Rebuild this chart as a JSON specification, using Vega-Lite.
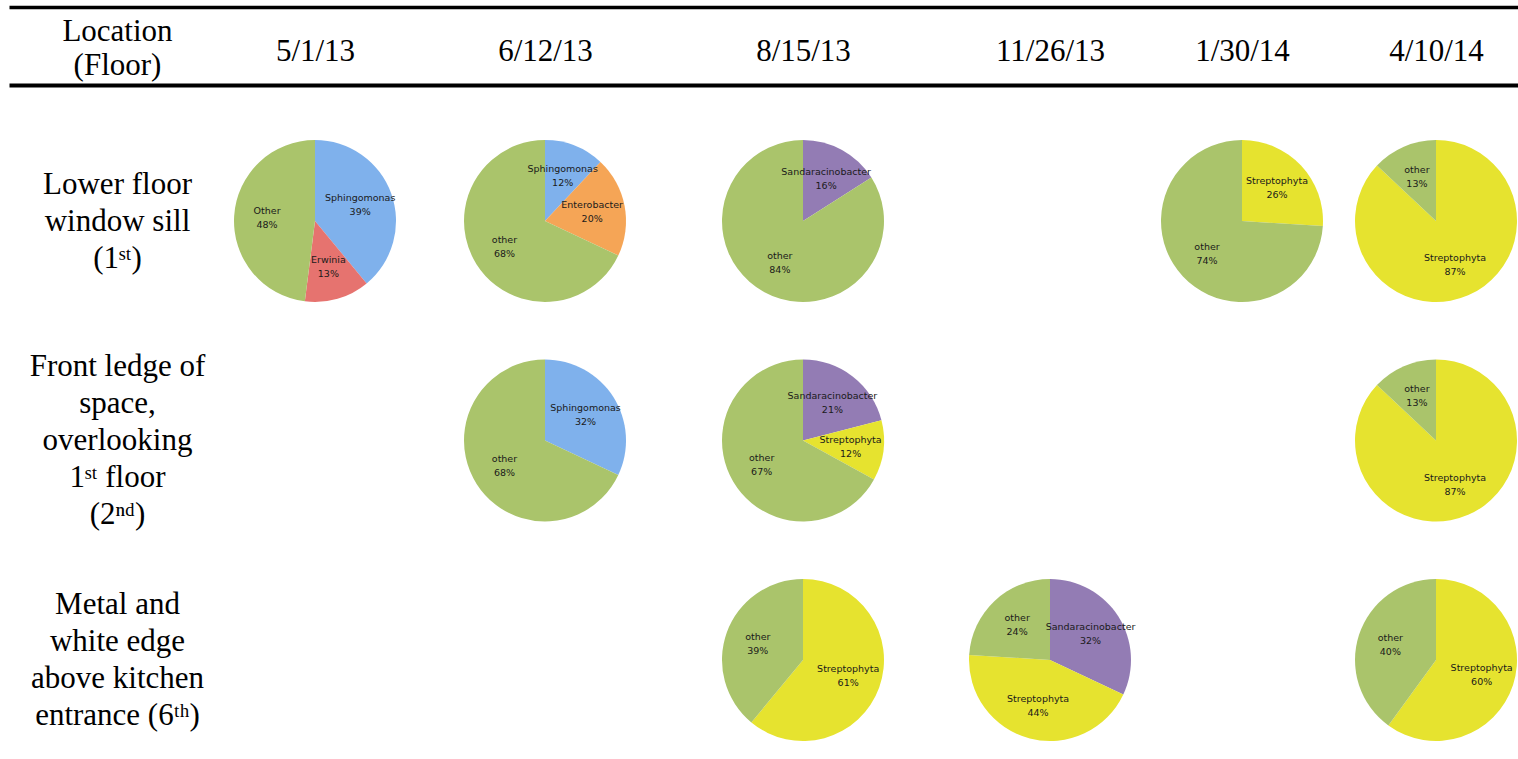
{
  "$schema": "https://vega.github.io/schema/vega-lite/v6.json",
  "width": 1509,
  "height": 674,
  "autosize": {"type": "none"},
  "padding": {"left": 9, "top": 85, "right": 0, "bottom": 0},
  "background": "white",
  "config": {"view": {"stroke": null}},
  "data": {
    "values": [
      {"sample": "L1 5/1/13", "location": "Lower floor\nwindow sill\n(1\u02e2\u1d57)", "date": "2013/05/01", "taxon": "Sphingomonas", "share": 0.39, "rank": 1},
      {"sample": "L1 5/1/13", "location": "Lower floor\nwindow sill\n(1\u02e2\u1d57)", "date": "2013/05/01", "taxon": "Erwinia", "share": 0.13, "rank": 2},
      {"sample": "L1 5/1/13", "location": "Lower floor\nwindow sill\n(1\u02e2\u1d57)", "date": "2013/05/01", "taxon": "Other", "share": 0.48, "rank": 3},
      {"sample": "L1 6/12/13", "location": "Lower floor\nwindow sill\n(1\u02e2\u1d57)", "date": "2013/06/12", "taxon": "Sphingomonas", "share": 0.12, "rank": 1},
      {"sample": "L1 6/12/13", "location": "Lower floor\nwindow sill\n(1\u02e2\u1d57)", "date": "2013/06/12", "taxon": "Enterobacter", "share": 0.20, "rank": 2},
      {"sample": "L1 6/12/13", "location": "Lower floor\nwindow sill\n(1\u02e2\u1d57)", "date": "2013/06/12", "taxon": "other", "share": 0.68, "rank": 3},
      {"sample": "L1 8/15/13", "location": "Lower floor\nwindow sill\n(1\u02e2\u1d57)", "date": "2013/08/15", "taxon": "Sandaracinobacter", "share": 0.16, "rank": 1},
      {"sample": "L1 8/15/13", "location": "Lower floor\nwindow sill\n(1\u02e2\u1d57)", "date": "2013/08/15", "taxon": "other", "share": 0.84, "rank": 2},
      {"sample": "L1 1/30/14", "location": "Lower floor\nwindow sill\n(1\u02e2\u1d57)", "date": "2014/01/30", "taxon": "Streptophyta", "share": 0.26, "rank": 1},
      {"sample": "L1 1/30/14", "location": "Lower floor\nwindow sill\n(1\u02e2\u1d57)", "date": "2014/01/30", "taxon": "other", "share": 0.74, "rank": 2},
      {"sample": "L1 4/10/14", "location": "Lower floor\nwindow sill\n(1\u02e2\u1d57)", "date": "2014/04/10", "taxon": "Streptophyta", "share": 0.87, "rank": 1},
      {"sample": "L1 4/10/14", "location": "Lower floor\nwindow sill\n(1\u02e2\u1d57)", "date": "2014/04/10", "taxon": "other", "share": 0.13, "rank": 2},
      {"sample": "L2 6/12/13", "location": "Front ledge of\nspace,\noverlooking\n1\u02e2\u1d57 floor\n(2\u207f\u1d48)", "date": "2013/06/12", "taxon": "Sphingomonas", "share": 0.32, "rank": 1},
      {"sample": "L2 6/12/13", "location": "Front ledge of\nspace,\noverlooking\n1\u02e2\u1d57 floor\n(2\u207f\u1d48)", "date": "2013/06/12", "taxon": "other", "share": 0.68, "rank": 2},
      {"sample": "L2 8/15/13", "location": "Front ledge of\nspace,\noverlooking\n1\u02e2\u1d57 floor\n(2\u207f\u1d48)", "date": "2013/08/15", "taxon": "Sandaracinobacter", "share": 0.21, "rank": 1},
      {"sample": "L2 8/15/13", "location": "Front ledge of\nspace,\noverlooking\n1\u02e2\u1d57 floor\n(2\u207f\u1d48)", "date": "2013/08/15", "taxon": "Streptophyta", "share": 0.12, "rank": 2},
      {"sample": "L2 8/15/13", "location": "Front ledge of\nspace,\noverlooking\n1\u02e2\u1d57 floor\n(2\u207f\u1d48)", "date": "2013/08/15", "taxon": "other", "share": 0.67, "rank": 3},
      {"sample": "L2 4/10/14", "location": "Front ledge of\nspace,\noverlooking\n1\u02e2\u1d57 floor\n(2\u207f\u1d48)", "date": "2014/04/10", "taxon": "Streptophyta", "share": 0.87, "rank": 1},
      {"sample": "L2 4/10/14", "location": "Front ledge of\nspace,\noverlooking\n1\u02e2\u1d57 floor\n(2\u207f\u1d48)", "date": "2014/04/10", "taxon": "other", "share": 0.13, "rank": 2},
      {"sample": "L3 8/15/13", "location": "Metal and\nwhite edge\nabove kitchen\nentrance (6\u1d57\u02b0)", "date": "2013/08/15", "taxon": "Streptophyta", "share": 0.61, "rank": 1},
      {"sample": "L3 8/15/13", "location": "Metal and\nwhite edge\nabove kitchen\nentrance (6\u1d57\u02b0)", "date": "2013/08/15", "taxon": "other", "share": 0.39, "rank": 2},
      {"sample": "L3 11/26/13", "location": "Metal and\nwhite edge\nabove kitchen\nentrance (6\u1d57\u02b0)", "date": "2013/11/26", "taxon": "Sandaracinobacter", "share": 0.32, "rank": 1},
      {"sample": "L3 11/26/13", "location": "Metal and\nwhite edge\nabove kitchen\nentrance (6\u1d57\u02b0)", "date": "2013/11/26", "taxon": "Streptophyta", "share": 0.44, "rank": 2},
      {"sample": "L3 11/26/13", "location": "Metal and\nwhite edge\nabove kitchen\nentrance (6\u1d57\u02b0)", "date": "2013/11/26", "taxon": "other", "share": 0.24, "rank": 3},
      {"sample": "L3 4/10/14", "location": "Metal and\nwhite edge\nabove kitchen\nentrance (6\u1d57\u02b0)", "date": "2014/04/10", "taxon": "Streptophyta", "share": 0.60, "rank": 1},
      {"sample": "L3 4/10/14", "location": "Metal and\nwhite edge\nabove kitchen\nentrance (6\u1d57\u02b0)", "date": "2014/04/10", "taxon": "other", "share": 0.40, "rank": 2}
    ]
  },
  "resolve": {"axis": {"x": "independent"}},
  "layer": [
    {
      "transform": [
        {"stack": "share", "groupby": ["sample"], "sort": [{"field": "rank", "order": "ascending"}], "as": ["t0", "t1"]}
      ],
      "mark": {"type": "arc", "outerRadius": 81},
      "encoding": {
        "x": {
          "field": "date", "type": "temporal",
          "scale": {
            "domainRaw": {"expr": "[datetime(2013,3,1), datetime(2013,4,1), datetime(2013,5,12), datetime(2013,7,15), datetime(2013,10,26), datetime(2014,0,30), datetime(2014,3,10), datetime(2014,4,1)]"},
            "range": [0, 306, 536, 794, 1041, 1233, 1427, 1509],
            "nice": false
          },
          "axis": {
            "orient": "top",
            "values": [
              {"year": 2013, "month": 5, "date": 1},
              {"year": 2013, "month": 6, "date": 12},
              {"year": 2013, "month": 8, "date": 15},
              {"year": 2013, "month": 11, "date": 26},
              {"year": 2014, "month": 1, "date": 30},
              {"year": 2014, "month": 4, "date": 10}
            ],
            "format": "%-m/%-d/%y",
            "formatType": "time",
            "title": null,
            "grid": false,
            "ticks": false,
            "tickSize": 0,
            "labelPadding": 25,
            "labelBaseline": "alphabetic",
            "labelFont": "Liberation Serif",
            "labelFontSize": 31,
            "labelColor": "black",
            "labelFlush": false,
            "labelOverlap": false,
            "labelBound": false,
            "domain": true,
            "domainColor": "black",
            "domainWidth": 4
          }
        },
        "y": {
          "field": "location", "type": "nominal",
          "scale": {
            "domain": [
              "Lower floor\nwindow sill\n(1\u02e2\u1d57)",
              "Front ledge of\nspace,\noverlooking\n1\u02e2\u1d57 floor\n(2\u207f\u1d48)",
              "Metal and\nwhite edge\nabove kitchen\nentrance (6\u1d57\u02b0)"
            ],
            "range": [136, 575],
            "padding": 0
          },
          "axis": {
            "orient": "left",
            "title": ["Location", "(Floor)"],
            "titleAngle": 0,
            "titleX": 108,
            "titleY": -45,
            "titleAlign": "center",
            "titleBaseline": "alphabetic",
            "titleFont": "Liberation Serif",
            "titleFontSize": 31,
            "titleFontWeight": "normal",
            "titleColor": "black",
            "titleLineHeight": 34,
            "domain": false,
            "ticks": false,
            "tickSize": 0,
            "grid": false,
            "labelExpr": "split(datum.value, '\\n')",
            "labelAlign": "center",
            "labelBaseline": "middle",
            "labelPadding": -108,
            "labelOffset": {
              "condition": [
                {"test": "length(split(datum.value, '\\n')) == 5", "value": -74},
                {"test": "length(split(datum.value, '\\n')) == 4", "value": -55.5}
              ],
              "value": -37
            },
            "labelFont": "Liberation Serif",
            "labelFontSize": 31,
            "labelLineHeight": 37,
            "labelColor": "black",
            "labelLimit": 0,
            "labelOverlap": false,
            "labelBound": false,
            "labelFlush": false
          }
        },
        "theta": {"field": "t0", "type": "quantitative", "stack": null, "scale": {"domain": [0, 1]}},
        "theta2": {"field": "t1"},
        "color": {
          "field": "taxon", "type": "nominal",
          "scale": {
            "domain": ["Other", "other", "Sphingomonas", "Erwinia", "Enterobacter", "Sandaracinobacter", "Streptophyta"],
            "range": ["#aac46b", "#aac46b", "#7fb1ec", "#e6736f", "#f5a556", "#937cb4", "#e6e32f"]
          },
          "legend": null
        }
      }
    },
    {
      "mark": {"type": "text", "dy": -7, "font": "DejaVu Sans", "fontSize": 9.5, "color": "#1a1a1a"},
      "encoding": {
        "x": {
          "field": "date", "type": "temporal",
          "scale": {
            "domainRaw": {"expr": "[datetime(2013,3,1), datetime(2013,4,1), datetime(2013,5,12), datetime(2013,7,15), datetime(2013,10,26), datetime(2014,0,30), datetime(2014,3,10), datetime(2014,4,1)]"},
            "range": [0, 306, 536, 794, 1041, 1233, 1427, 1509],
            "nice": false
          },
          "axis": {
            "orient": "top",
            "offset": 78,
            "labels": false,
            "ticks": false,
            "grid": false,
            "title": null,
            "domain": true,
            "domainColor": "black",
            "domainWidth": 3.3
          }
        },
        "y": {
          "field": "location", "type": "nominal",
          "scale": {
            "domain": [
              "Lower floor\nwindow sill\n(1\u02e2\u1d57)",
              "Front ledge of\nspace,\noverlooking\n1\u02e2\u1d57 floor\n(2\u207f\u1d48)",
              "Metal and\nwhite edge\nabove kitchen\nentrance (6\u1d57\u02b0)"
            ],
            "range": [136, 575],
            "padding": 0
          }
        },
        "theta": {"field": "share", "type": "quantitative", "stack": true, "scale": {"domain": [0, 1]}},
        "radius": {"field": "sample", "type": "nominal", "scale": {"range": [48, 48]}},
        "order": {"field": "rank", "type": "quantitative"},
        "text": {"field": "taxon", "type": "nominal"}
      }
    },
    {
      "mark": {"type": "text", "dy": 7, "font": "DejaVu Sans", "fontSize": 9.5, "color": "#1a1a1a"},
      "encoding": {
        "x": {
          "field": "date", "type": "temporal",
          "scale": {
            "domainRaw": {"expr": "[datetime(2013,3,1), datetime(2013,4,1), datetime(2013,5,12), datetime(2013,7,15), datetime(2013,10,26), datetime(2014,0,30), datetime(2014,3,10), datetime(2014,4,1)]"},
            "range": [0, 306, 536, 794, 1041, 1233, 1427, 1509],
            "nice": false
          },
          "axis": null
        },
        "y": {
          "field": "location", "type": "nominal",
          "scale": {
            "domain": [
              "Lower floor\nwindow sill\n(1\u02e2\u1d57)",
              "Front ledge of\nspace,\noverlooking\n1\u02e2\u1d57 floor\n(2\u207f\u1d48)",
              "Metal and\nwhite edge\nabove kitchen\nentrance (6\u1d57\u02b0)"
            ],
            "range": [136, 575],
            "padding": 0
          }
        },
        "theta": {"field": "share", "type": "quantitative", "stack": true, "scale": {"domain": [0, 1]}},
        "radius": {"field": "sample", "type": "nominal", "scale": {"range": [48, 48]}},
        "order": {"field": "rank", "type": "quantitative"},
        "text": {"field": "share", "type": "quantitative", "format": ".0%"}
      }
    }
  ]
}
